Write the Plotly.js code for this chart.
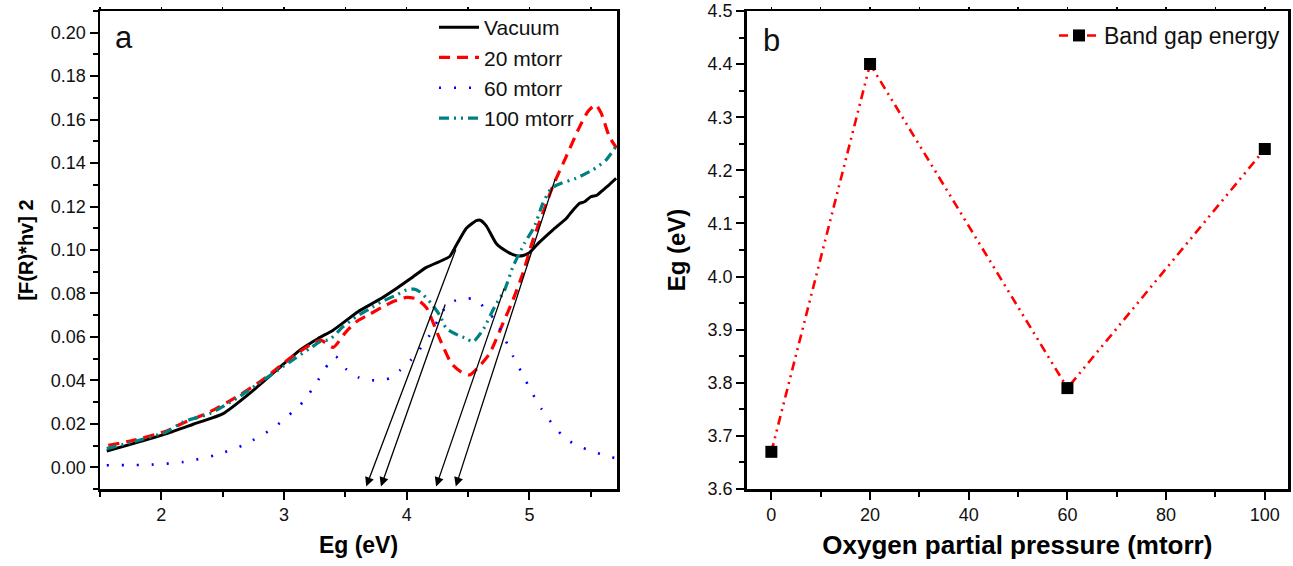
<!DOCTYPE html>
<html><head><meta charset="utf-8">
<script src="https://cdn.plot.ly/plotly-3.0.1.min.js"></script>
<style>html,body{margin:0;padding:0;background:#fff}#chart{width:1293px;height:566px}</style>
</head><body><div id="chart"></div><script>
// ---- Panel a data ----
const vacuumX = [1.555,1.77,2.043,2.26,2.504,2.72,2.939,3.129,3.278,3.40,3.603,3.78,3.916,4.05,4.16,4.296,4.35,4.405,4.486,4.567,4.60,4.65,4.73,4.81,4.893,4.95,5.00,5.08,5.19,5.30,5.35,5.41,5.45,5.50,5.55,5.60,5.65,5.707];
const vacuumY = [0.0075,0.0109,0.0155,0.0198,0.0247,0.034,0.0447,0.0539,0.0593,0.0631,0.0716,0.0773,0.0823,0.0876,0.092,0.0954,0.097,0.1023,0.110,0.1135,0.1137,0.111,0.103,0.0995,0.0974,0.0975,0.0988,0.1035,0.1092,0.1145,0.118,0.1215,0.1222,0.1245,0.1252,0.1276,0.130,0.133];

const m20X = [1.568,1.77,2.043,2.178,2.396,2.613,2.83,3.047,3.21,3.30,3.40,3.50,3.59,3.70,3.807,3.90,3.998,4.08,4.16,4.27,4.364,4.44,4.513,4.60,4.676,4.784,4.866,4.947,5.029,5.11,5.19,5.30,5.41,5.48,5.54,5.585,5.653,5.71];
const m20Y = [0.0101,0.0124,0.0167,0.0204,0.0255,0.0324,0.0404,0.0501,0.0562,0.0585,0.0552,0.062,0.067,0.0705,0.0739,0.0765,0.0782,0.0775,0.0735,0.059,0.0478,0.044,0.0425,0.047,0.0524,0.0662,0.077,0.0893,0.1046,0.117,0.1292,0.143,0.1568,0.164,0.1668,0.163,0.152,0.147];

const m60X = [1.555,1.70,1.92,2.178,2.436,2.68,2.925,3.155,3.278,3.36,3.42,3.51,3.61,3.70,3.807,3.888,3.943,4.038,4.106,4.187,4.255,4.323,4.40,4.445,4.50,4.554,4.643,4.725,4.798,4.866,4.942,5.015,5.097,5.20,5.30,5.43,5.553,5.70];
const m60Y = [0.0009,0.001,0.0012,0.0024,0.0055,0.0105,0.0186,0.0301,0.0401,0.0475,0.051,0.045,0.0413,0.0401,0.0401,0.0416,0.0445,0.0496,0.0542,0.0608,0.0677,0.0742,0.0768,0.0774,0.0776,0.0777,0.0728,0.0673,0.0593,0.0512,0.043,0.035,0.027,0.019,0.0129,0.0091,0.0066,0.0042];

const m100X = [1.555,1.77,2.043,2.178,2.396,2.613,2.83,3.047,3.21,3.30,3.373,3.48,3.59,3.70,3.794,3.916,3.998,4.06,4.106,4.20,4.269,4.323,4.418,4.486,4.54,4.62,4.717,4.798,4.866,4.96,5.04,5.11,5.178,5.26,5.38,5.517,5.626,5.71];
const m100Y = [0.0086,0.0117,0.0163,0.0209,0.0247,0.0317,0.0401,0.0485,0.0547,0.058,0.0589,0.0647,0.0693,0.073,0.0762,0.0793,0.0816,0.082,0.0808,0.0754,0.070,0.0639,0.0608,0.0593,0.0577,0.0631,0.0739,0.0816,0.0923,0.1031,0.1107,0.1215,0.1284,0.1307,0.133,0.1369,0.1415,0.148];

const seriesNames = ['Vacuum','20 mtorr','60 mtorr','100 mtorr'];

// ---- Panel b data ----
const pressure = [0,20,60,100];
const bandGap = [3.67,4.40,3.79,4.24];
// tangent-line start points (panel a) for each sample, same order as pressure
const tangentStartX = [4.405,5.213,4.318,4.798];
const tangentStartY = [0.1009,0.1332,0.0756,0.0829];

const FONT = 'Liberation Sans, Arial, sans-serif';
const W = 1293, H = 566;

const traces = [
  {x: vacuumX, y: vacuumY, name: seriesNames[0], mode:'lines', line:{color:'#000000', width:3, shape:'spline', smoothing:0.5}, xaxis:'x', yaxis:'y', legend:'legend'},
  {x: m20X, y: m20Y, name: seriesNames[1], mode:'lines', line:{color:'#ff0000', width:3.2, dash:'11px,7px', shape:'spline', smoothing:0.6}, xaxis:'x', yaxis:'y', legend:'legend'},
  {x: m60X, y: m60Y, name: seriesNames[2], mode:'lines', line:{color:'#0000ff', width:2.6, dash:'2px,13px', shape:'spline', smoothing:0.6}, xaxis:'x', yaxis:'y', legend:'legend'},
  {x: m100X, y: m100Y, name: seriesNames[3], mode:'lines', line:{color:'#008080', width:3.2, dash:'10px,5px,2px,5px,2px,5px', shape:'spline', smoothing:0.6}, xaxis:'x', yaxis:'y', legend:'legend'},
  {x: pressure, y: bandGap, name:'Band gap energy', mode:'lines+markers', line:{color:'#ff0000', width:2.6, dash:'9px,5px,2px,5px,2px,5px'}, marker:{symbol:'square', size:12, color:'#000000'}, xaxis:'x2', yaxis:'y2', legend:'legend2'},
  {x: [], y: [], xaxis:'x3', yaxis:'y', showlegend:false, hoverinfo:'skip'},
  {x: [], y: [], xaxis:'x4', yaxis:'y2', showlegend:false, hoverinfo:'skip'}
];

const axisCommon = {
  showline:true, linecolor:'#000', linewidth:2.5, mirror:true,
  ticks:'outside', ticklen:8, tickwidth:2, tickcolor:'#000',
  showgrid:false, zeroline:false,
  tickfont:{family:FONT, size:18, color:'#111'}
};
const yDom = [1-489/H, 1-11/H];

const arrows = bandGap.map((g,i)=>({
  x: g, y: -0.0088, xref:'x', yref:'y',
  ax: tangentStartX[i], ay: tangentStartY[i], axref:'x', ayref:'y',
  text:'', showarrow:true, arrowhead:2, arrowsize:1.4, arrowwidth:1.3, arrowcolor:'#000'
}));

const layout = {
  width: W, height: H,
  margin:{l:0,r:0,t:0,b:0},
  paper_bgcolor:'#fff', plot_bgcolor:'#fff',
  font:{family:FONT, color:'#000'},
  xaxis: Object.assign({}, axisCommon, {
    domain:[100/W, 617/W], anchor:'y', range:[1.5,5.714], tick0:0, dtick:1,
    minor:{dtick:0.5, tick0:0, ticks:'outside', ticklen:5, tickwidth:2, tickcolor:'#000'},
    title:{text:'Eg (eV)', font:{family:FONT, size:23, weight:'bold'}, standoff:13}
  }),
  yaxis: Object.assign({}, axisCommon, {
    domain:yDom, anchor:'x', range:[-0.01,0.21], tick0:0, dtick:0.02, tickformat:'.2f',
    minor:{dtick:0.01, tick0:0, ticks:'outside', ticklen:5, tickwidth:2, tickcolor:'#000'},
    title:{text:'[F(R)*hv] 2', font:{family:FONT, size:20, weight:'bold'}, standoff:12}
  }),
  xaxis3: {overlaying:'x', side:'top', anchor:'y', range:[1.5,5.714], tick0:0, dtick:0.5,
    ticks:'outside', ticklen:3, tickwidth:1.5, tickcolor:'#000', showticklabels:false,
    showline:false, showgrid:false, zeroline:false},
  xaxis2: Object.assign({}, axisCommon, {
    domain:[746.7/W, 1288/W], anchor:'y2', range:[-5,104.7], tick0:0, dtick:20,
    minor:{dtick:10, tick0:0, ticks:'outside', ticklen:5, tickwidth:2, tickcolor:'#000'},
    title:{text:'Oxygen partial pressure (mtorr)', font:{family:FONT, size:26, weight:'bold'}, standoff:12}
  }),
  yaxis2: Object.assign({}, axisCommon, {
    domain:yDom, anchor:'x2', range:[3.6,4.5], tick0:0, dtick:0.1, tickformat:'.1f',
    minor:{dtick:0.05, tick0:0, ticks:'outside', ticklen:5, tickwidth:2, tickcolor:'#000'},
    title:{text:'Eg (eV)', font:{family:FONT, size:24, weight:'bold'}, standoff:15}
  }),
  xaxis4: {overlaying:'x2', side:'top', anchor:'y2', range:[-5,104.7], tick0:0, dtick:10,
    ticks:'outside', ticklen:3, tickwidth:1.5, tickcolor:'#000', showticklabels:false,
    showline:false, showgrid:false, zeroline:false},
  legend: {x:434/W, y:1-7/H, xanchor:'left', yanchor:'top', bgcolor:'rgba(0,0,0,0)',
    font:{family:FONT, size:21, color:'#111'}, tracegroupgap:0, itemwidth:40},
  legend2: {x:1054/W, y:1-14/H, xanchor:'left', yanchor:'top', bgcolor:'rgba(0,0,0,0)',
    font:{family:FONT, size:23, color:'#111'}, itemwidth:40},
  showlegend:true,
  annotations: [
    {text:'a', xref:'paper', yref:'paper', x:113/W, y:1-37/H, xanchor:'left', yanchor:'middle', showarrow:false, font:{family:FONT, size:31, color:'#111'}},
    {text:'b', xref:'paper', yref:'paper', x:761/W, y:1-40/H, xanchor:'left', yanchor:'middle', showarrow:false, font:{family:FONT, size:31, color:'#111'}}
  ].concat(arrows)
};

Plotly.newPlot('chart', traces, layout, {displayModeBar:false, staticPlot:true});
</script></body></html>
